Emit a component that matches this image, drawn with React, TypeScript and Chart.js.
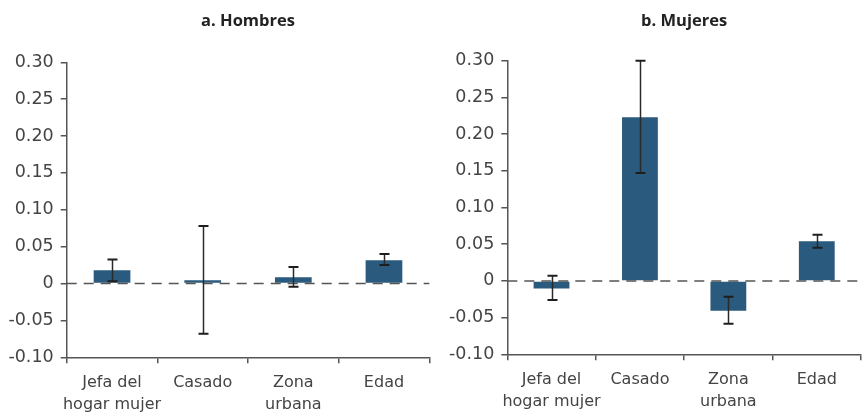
import React, { useEffect, useRef } from "react";
import { Chart, registerables } from "chart.js";

Chart.register(...registerables);

// Categories shared by both panels
const categories: (string | string[])[] = [["Jefa del", "hogar mujer"], "Casado", ["Zona", "urbana"], "Edad"];

// Panel a: Hombres — point estimates and confidence bounds
const hombresValues = [0.018, 0.0045, 0.0085, 0.0315];
const hombresLow = [0.003, -0.068, -0.0045, 0.025];
const hombresHigh = [0.0325, 0.078, 0.0225, 0.04];

// Panel b: Mujeres — point estimates and confidence bounds
const mujeresValues = [-0.0105, 0.223, -0.0405, 0.054];
const mujeresLow = [-0.026, 0.147, -0.0585, 0.045];
const mujeresHigh = [0.007, 0.3, -0.0215, 0.063];

// Value axis
const yMin = -0.1;
const yMax = 0.3;
const yStep = 0.05;

const FONT = "'DejaVu Sans', sans-serif";
const TITLE_FONT = "'Open Sans', sans-serif";
const BAR_COLOR = "#2a5a7d";
const AXIS_COLOR = "#555";
const TEXT_COLOR = "#444";

type PanelProps = {
  title: string;
  values: number[];
  low: number[];
  high: number[];
  axisWidth: number;
  xHeight: number;
  topPad: number;
  rightPad: number;
};

const Panel: React.FC<PanelProps> = ({ title, values, low, high, axisWidth, xHeight, topPad, rightPad }) => {
  const ref = useRef<HTMLCanvasElement | null>(null);

  useEffect(() => {
    if (!ref.current) return;

    // Title centred over the plotting area
    const titlePlugin = {
      id: "panelTitle",
      afterDraw(chart: any) {
        const { ctx, chartArea } = chart;
        ctx.save();
        ctx.font = `bold 16.5px ${TITLE_FONT}`;
        ctx.fillStyle = "#222";
        ctx.textAlign = "center";
        ctx.textBaseline = "middle";
        ctx.fillText(title, (chartArea.left + chartArea.right) / 2, 21);
        ctx.restore();
      },
    };

    // Dashed zero reference line and error bars
    const overlayPlugin = {
      id: "zeroAndErrors",
      afterDatasetsDraw(chart: any) {
        const { ctx, chartArea, scales } = chart;
        const y = scales.y;
        const x = scales.x;
        const y0 = y.getPixelForValue(0);
        ctx.save();
        ctx.strokeStyle = AXIS_COLOR;
        ctx.lineWidth = 1.5;
        ctx.setLineDash([10, 7]);
        ctx.beginPath();
        ctx.moveTo(chartArea.left, y0);
        ctx.lineTo(chartArea.right, y0);
        ctx.stroke();
        ctx.setLineDash([]);

        const cap = 5;
        for (let i = 0; i < values.length; i++) {
          const cx = Math.round(x.getPixelForValue(i)) + 0.5;
          const yl = y.getPixelForValue(low[i]);
          const yh = y.getPixelForValue(high[i]);
          ctx.strokeStyle = "#2a2a2a";
          ctx.lineWidth = 1.5;
          ctx.beginPath();
          ctx.moveTo(cx, yh);
          ctx.lineTo(cx, yl);
          ctx.stroke();
          ctx.strokeStyle = "#1e1e1e";
          ctx.lineWidth = 2;
          ctx.beginPath();
          ctx.moveTo(cx - cap, yh);
          ctx.lineTo(cx + cap, yh);
          ctx.moveTo(cx - cap, yl);
          ctx.lineTo(cx + cap, yl);
          ctx.stroke();
        }
        ctx.restore();
      },
    };

    const chart = new Chart(ref.current, {
      type: "bar",
      data: {
        labels: categories,
        datasets: [
          {
            data: values,
            backgroundColor: BAR_COLOR,
            borderWidth: 0,
            categoryPercentage: 1,
            barPercentage: 0.405,
          },
        ],
      },
      options: {
        responsive: false,
        animation: false,
        devicePixelRatio: 1,
        layout: { padding: { top: topPad, right: rightPad, left: 0, bottom: 0 } },
        plugins: { legend: { display: false }, tooltip: { enabled: false }, title: { display: false } },
        scales: {
          x: {
            type: "category",
            offset: true,
            grid: {
              display: true,
              drawOnChartArea: false,
              offset: true,
              tickLength: 6,
              color: AXIS_COLOR,
              lineWidth: 1.5,
            },
            border: { color: AXIS_COLOR, width: 1.5 },
            ticks: {
              font: { family: FONT, size: 16, lineHeight: 1.375 },
              color: TEXT_COLOR,
              padding: 9,
              maxRotation: 0,
              autoSkip: false,
            },
            afterFit: (s: any) => {
              s.height = xHeight;
            },
          },
          y: {
            min: yMin,
            max: yMax,
            grid: {
              display: true,
              drawOnChartArea: false,
              tickLength: 6,
              color: AXIS_COLOR,
              lineWidth: 1.5,
            },
            border: { color: AXIS_COLOR, width: 1.5 },
            ticks: {
              stepSize: yStep,
              font: { family: FONT, size: 17.5 },
              color: TEXT_COLOR,
              padding: 7,
              callback: (v: any) => (Math.abs(Number(v)) < 1e-9 ? "0" : Number(v).toFixed(2)),
            },
            afterFit: (s: any) => {
              s.width = axisWidth;
            },
          },
        },
      },
      plugins: [titlePlugin, overlayPlugin],
    } as any);

    return () => chart.destroy();
  }, []);

  return <canvas ref={ref} width={431} height={412} style={{ display: "block", width: 431, height: 412 }} />;
};

export default function App() {
  return (
    <div
      style={{
        position: "fixed",
        top: 0,
        left: 0,
        width: 862,
        height: 412,
        background: "#fff",
        display: "flex",
      }}
    >
      <Panel
        title="a. Hombres"
        values={hombresValues}
        low={hombresLow}
        high={hombresHigh}
        axisWidth={66.7}
        xHeight={54.7}
        topPad={62.3}
        rightPad={1.7}
      />
      <Panel
        title="b. Mujeres"
        values={mujeresValues}
        low={mujeresLow}
        high={mujeresHigh}
        axisWidth={76.3}
        xHeight={57.7}
        topPad={60.7}
        rightPad={1}
      />
    </div>
  );
}
